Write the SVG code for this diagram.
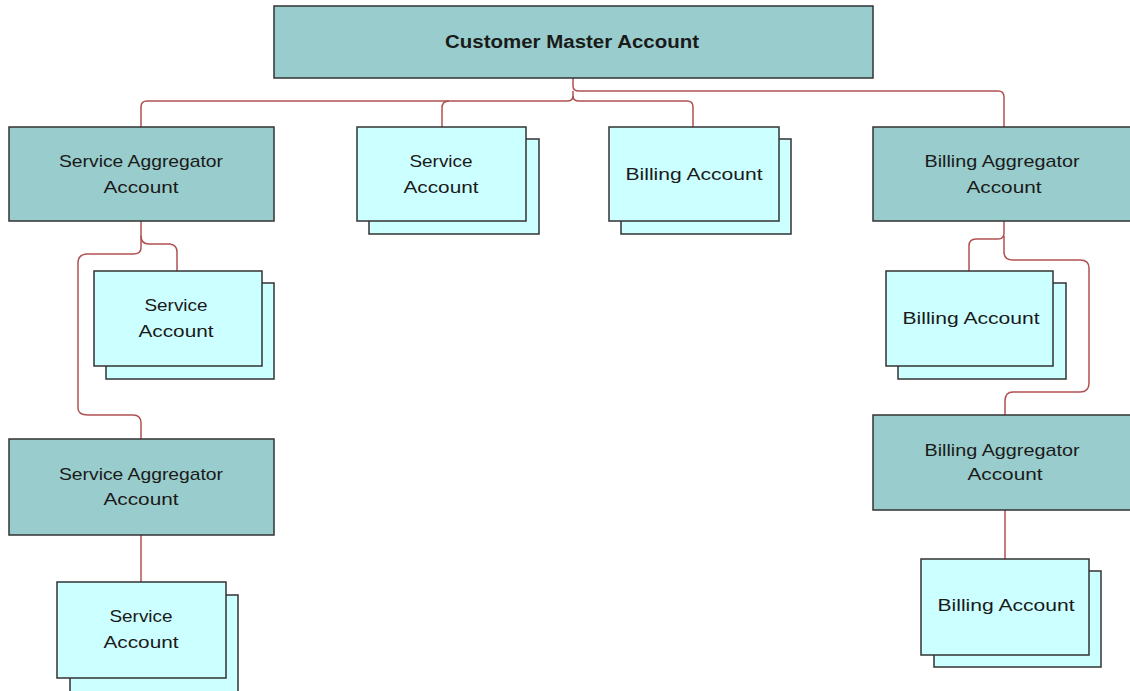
<svg xmlns="http://www.w3.org/2000/svg" width="1130" height="691" viewBox="0 0 1130 691">
<style>
.agg{fill:#99cccc;stroke:#333;stroke-width:1.5}
.acc{fill:#ccffff;stroke:#333;stroke-width:1.5}
.t{font-family:"Liberation Sans",Arial,sans-serif;font-size:17px;fill:#1a1a1a;text-anchor:middle}
.tb{font-family:"Liberation Sans",Arial,sans-serif;font-size:18px;font-weight:bold;fill:#1a1a1a;text-anchor:middle}
.c{fill:none;stroke:#b05050;stroke-width:1.5}
</style>
<rect width="1130" height="691" fill="#fff"/>
<g id="connectors">
<path class="c" d="M573 78 V86 Q573 91 579 91 H998 Q1004 91 1004 97 V127"/>
<path class="c" d="M573 91 V96 Q573 101 567 101 H147 Q141 101 141 107 V127"/>
<path class="c" d="M573 96 Q573 101 579 101 H687 Q693 101 693 107 V127"/>
<path class="c" d="M449 101 Q442 101 442 108 V127"/>
<path class="c" d="M141 221 V248 Q141 254 133 254 H86 Q78 255 78 263 V408 Q78 415 88 415 H133 Q141 415 141 423 V439"/>
<path class="c" d="M141 236 Q141 244 149 244 H170 Q177 245 177 252 V271"/>
<path class="c" d="M141 535 V582"/>
<path class="c" d="M1004 221 V233 Q1004 239 998 239 H976 Q969 239 969 246 V271"/>
<path class="c" d="M1004 236 V252 Q1004 260 1013 260 H1080 Q1089 260 1089 268 V383 Q1089 392 1080 392 H1013 Q1005 392 1005 401 V415"/>
<path class="c" d="M1005 510 V559"/>
</g>
<g id="cma">
<rect class="agg" x="274" y="6" width="599" height="72"/>
<text class="tb" x="572" y="48" textLength="254" lengthAdjust="spacingAndGlyphs">Customer Master Account</text>
</g>
<g id="sagg1">
<rect class="agg" x="9" y="127" width="265" height="94"/>
<text class="t" x="141" y="167" textLength="164" lengthAdjust="spacingAndGlyphs">Service Aggregator</text>
<text class="t" x="141" y="193" textLength="75" lengthAdjust="spacingAndGlyphs">Account</text>
</g>
<g id="sacc1">
<rect class="acc" x="369" y="139" width="170" height="95"/>
<rect class="acc" x="357" y="127" width="169" height="94"/>
<text class="t" x="441" y="167" textLength="63" lengthAdjust="spacingAndGlyphs">Service</text>
<text class="t" x="441" y="193" textLength="75" lengthAdjust="spacingAndGlyphs">Account</text>
</g>
<g id="bacc1">
<rect class="acc" x="621" y="139" width="170" height="95"/>
<rect class="acc" x="609" y="127" width="170" height="94"/>
<text class="t" x="694" y="180" textLength="137" lengthAdjust="spacingAndGlyphs">Billing Account</text>
</g>
<g id="bagg1">
<rect class="agg" x="873" y="127" width="262" height="94"/>
<text class="t" x="1002" y="167" textLength="155" lengthAdjust="spacingAndGlyphs">Billing Aggregator</text>
<text class="t" x="1004" y="193" textLength="75" lengthAdjust="spacingAndGlyphs">Account</text>
</g>
<g id="sacc2">
<rect class="acc" x="106" y="283" width="168" height="96"/>
<rect class="acc" x="94" y="271" width="168" height="95"/>
<text class="t" x="176" y="311" textLength="63" lengthAdjust="spacingAndGlyphs">Service</text>
<text class="t" x="176" y="337" textLength="75" lengthAdjust="spacingAndGlyphs">Account</text>
</g>
<g id="sagg2">
<rect class="agg" x="9" y="439" width="265" height="96"/>
<text class="t" x="141" y="480" textLength="164" lengthAdjust="spacingAndGlyphs">Service Aggregator</text>
<text class="t" x="141" y="505" textLength="75" lengthAdjust="spacingAndGlyphs">Account</text>
</g>
<g id="sacc3">
<rect class="acc" x="70" y="595" width="168" height="100"/>
<rect class="acc" x="57" y="582" width="169" height="96"/>
<text class="t" x="141" y="622" textLength="63" lengthAdjust="spacingAndGlyphs">Service</text>
<text class="t" x="141" y="648" textLength="75" lengthAdjust="spacingAndGlyphs">Account</text>
</g>
<g id="bacc2">
<rect class="acc" x="898" y="283" width="168" height="96"/>
<rect class="acc" x="886" y="271" width="167" height="95"/>
<text class="t" x="971" y="324" textLength="137" lengthAdjust="spacingAndGlyphs">Billing Account</text>
</g>
<g id="bagg2">
<rect class="agg" x="873" y="415" width="262" height="95"/>
<text class="t" x="1002" y="456" textLength="155" lengthAdjust="spacingAndGlyphs">Billing Aggregator</text>
<text class="t" x="1005" y="480" textLength="75" lengthAdjust="spacingAndGlyphs">Account</text>
</g>
<g id="bacc3">
<rect class="acc" x="934" y="571" width="167" height="96"/>
<rect class="acc" x="921" y="559" width="168" height="96"/>
<text class="t" x="1006" y="611" textLength="137" lengthAdjust="spacingAndGlyphs">Billing Account</text>
</g>
</svg>
